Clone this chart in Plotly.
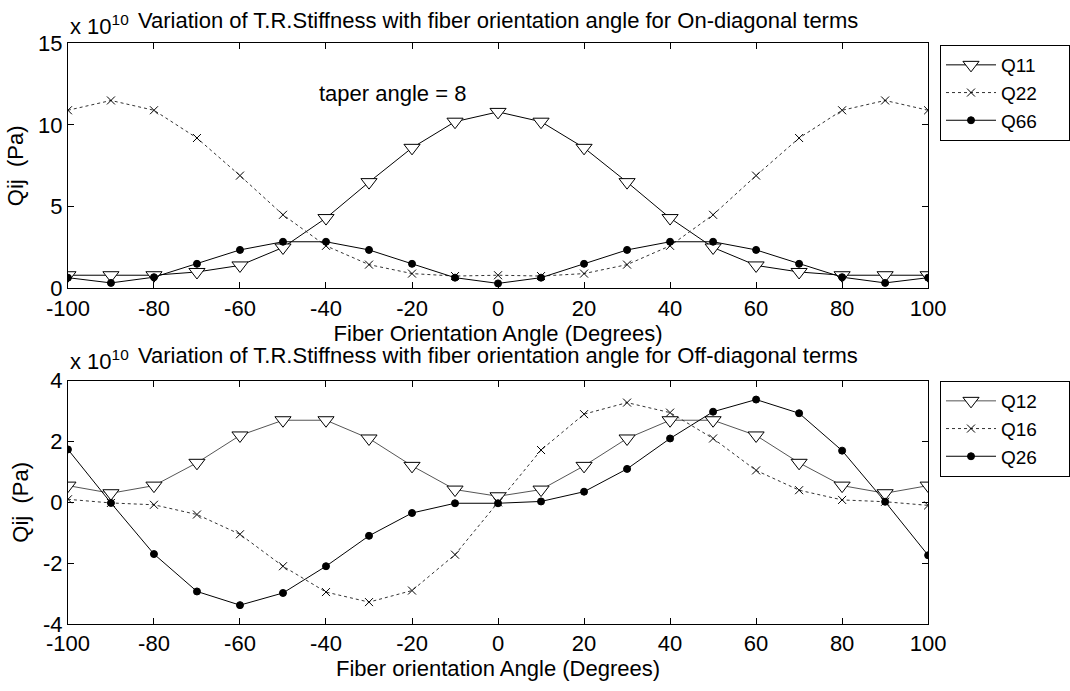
import plotly.graph_objects as go

angles = [-100, -90, -80, -70, -60, -50, -40, -30, -20, -10, 0,
          10, 20, 30, 40, 50, 60, 70, 80, 90, 100]

# On-diagonal terms (x 1e10 Pa)
q11 = [0.8, 0.8, 0.8, 1.0, 1.4, 2.5, 4.3, 6.5, 8.6, 10.2, 10.8,
       10.2, 8.6, 6.5, 4.3, 2.5, 1.4, 1.0, 0.8, 0.8, 0.8]
q22 = [10.9, 11.5, 10.9, 9.2, 6.9, 4.5, 2.6, 1.45, 0.9, 0.75, 0.8,
       0.75, 0.9, 1.45, 2.6, 4.5, 6.9, 9.2, 10.9, 11.5, 10.9]
q66 = [0.65, 0.33, 0.68, 1.5, 2.35, 2.85, 2.85, 2.35, 1.5, 0.65, 0.3,
       0.65, 1.5, 2.35, 2.85, 2.85, 2.35, 1.5, 0.68, 0.33, 0.65]

# Off-diagonal terms (x 1e10 Pa)
q12 = [0.55, 0.3, 0.55, 1.3, 2.2, 2.7, 2.7, 2.1, 1.2, 0.42, 0.2,
       0.42, 1.2, 2.1, 2.7, 2.7, 2.2, 1.3, 0.55, 0.3, 0.55]
q16 = [0.1, -0.02, -0.08, -0.4, -1.05, -2.1, -2.95, -3.28, -2.9, -1.72, 0.0,
       1.72, 2.9, 3.28, 2.95, 2.1, 1.05, 0.4, 0.08, 0.02, -0.1]
q26 = [1.74, -0.02, -1.7, -2.93, -3.38, -2.98, -2.1, -1.1, -0.35, -0.03, -0.03,
       0.03, 0.35, 1.1, 2.1, 2.98, 3.38, 2.93, 1.7, 0.02, -1.74]

x_ticks = [-100, -80, -60, -40, -20, 0, 20, 40, 60, 80, 100]
x_ticktext = ["-100", "-80", "-60", "-40", "-20", "0", "20", "40", "60", "80", "100"]
top_yticks = [0, 5, 10, 15]
top_yticktext = ["0", "5", "10", "15"]
bot_yticks = [-4, -2, 0, 2, 4]
bot_yticktext = ["-4", "-2", "0", "2", "4"]

FONT = "Liberation Sans, Arial, Helvetica, sans-serif"
FS = 22
W, H = 1070, 691
PAD = "\u00a0" * 5   # keeps the legend box as wide as the reference's


def px(xp):
    return xp / W


def py(yp):
    return 1 - yp / H


fig = go.Figure()


def add(name, y, symbol, size, dash, lcolor, xa, ya, legend, mcolor):
    fig.add_trace(go.Scatter(
        x=angles, y=y, name=name + PAD, mode="lines+markers",
        xaxis=xa, yaxis=ya, legend=legend,
        line=dict(color=lcolor, width=1, dash=dash),
        marker=dict(symbol=symbol, size=size, color=mcolor,
                    line=dict(color="black", width=1)),
    ))


add("Q11", q11, "triangle-down", 14, "solid", "black", "x", "y", "legend", "white")
add("Q22", q22, "x-thin-open", 8, "dot", "#333333", "x", "y", "legend", "black")
add("Q66", q66, "circle", 7, "solid", "black", "x", "y", "legend", "black")

add("Q12", q12, "triangle-down", 14, "solid", "#555555", "x2", "y2", "legend2", "white")
add("Q16", q16, "x-thin-open", 8, "dot", "#333333", "x2", "y2", "legend2", "black")
add("Q26", q26, "circle", 7, "solid", "black", "x2", "y2", "legend2", "black")

xdom = [px(68), px(929)]
axis_common = dict(
    showline=True, linecolor="black", linewidth=1, mirror="ticks",
    ticks="inside", ticklen=6, tickcolor="black", showgrid=False, zeroline=False,
    tickfont=dict(family=FONT, size=FS, color="black"), automargin=False,
)
tfont = dict(family=FONT, size=FS, color="black")
lfont = dict(family=FONT, size=19, color="black")

fig.update_layout(
    width=W, height=H,
    margin=dict(l=0, r=0, t=0, b=0),
    paper_bgcolor="white", plot_bgcolor="white",
    font=dict(family=FONT, size=FS, color="black"),
    xaxis=dict(domain=xdom, range=[-100, 100], tickvals=x_ticks, ticktext=x_ticktext,
               anchor="y",
               title=dict(text="Fiber Orientation Angle (Degrees)", standoff=0, font=tfont),
               **axis_common),
    yaxis=dict(domain=[py(288.3), py(43.3)], range=[0, 15], tickvals=top_yticks,
               ticktext=top_yticktext, anchor="x",
               title=dict(text="Qij\u00a0 (Pa)", standoff=8, font=tfont),
               **axis_common),
    xaxis2=dict(domain=xdom, range=[-100, 100], tickvals=x_ticks, ticktext=x_ticktext,
                anchor="y2",
                title=dict(text="Fiber orientation Angle (Degrees)", standoff=0, font=tfont),
                **axis_common),
    yaxis2=dict(domain=[py(624), py(380.7)], range=[-4, 4], tickvals=bot_yticks,
                ticktext=bot_yticktext, anchor="x2",
                title=dict(text="Qij\u00a0 (Pa)", standoff=8, font=tfont),
                **axis_common),
    legend=dict(x=px(940), y=py(45), xanchor="left", yanchor="top",
                bordercolor="black", borderwidth=1, bgcolor="white",
                font=lfont, itemwidth=50, tracegroupgap=0),
    legend2=dict(x=px(941), y=py(381), xanchor="left", yanchor="top",
                 bordercolor="black", borderwidth=1, bgcolor="white",
                 font=lfont, itemwidth=50, tracegroupgap=0),
    showlegend=True,
)

annots = [
    dict(text="x 10<sup>10</sup>", x=px(68), y=py(41), xanchor="left", yanchor="bottom"),
    dict(text="Variation of T.R.Stiffness with fiber orientation angle for On-diagonal terms",
         x=px(498.5), y=py(20), xanchor="center", yanchor="middle"),
    dict(text="x 10<sup>10</sup>", x=px(68), y=py(376), xanchor="left", yanchor="bottom"),
    dict(text="Variation of T.R.Stiffness with fiber orientation angle for Off-diagonal terms",
         x=px(498.5), y=py(355), xanchor="center", yanchor="middle"),
]
for a in annots:
    fig.add_annotation(xref="paper", yref="paper", showarrow=False, font=tfont, **a)

fig.add_annotation(text="taper angle = 8", x=-42, y=11.9, xref="x", yref="y",
                   xanchor="left", yanchor="middle", showarrow=False, font=tfont)

fig.write_html("out.html", config={"displayModeBar": False},
               post_script="document.body.style.margin='0';")
